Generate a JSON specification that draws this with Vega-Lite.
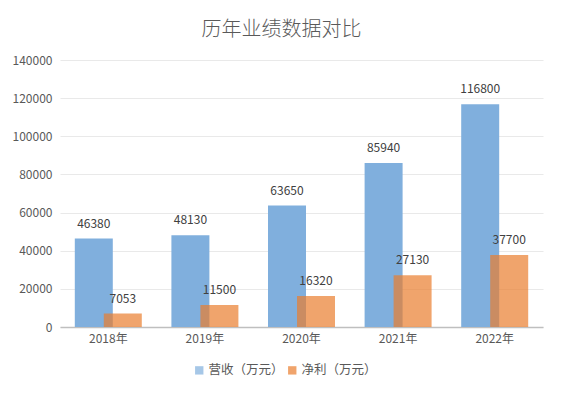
{
  "$schema": "https://vega.github.io/schema/vega-lite/v6.json",
  "width": 483,
  "height": 267,
  "autosize": {"type": "none"},
  "padding": {"left": 60, "top": 60, "right": 21, "bottom": 72},
  "background": "white",
  "title": {
    "text": "历年业绩数据对比",
    "fontSize": 20,
    "font": "Noto Sans CJK SC",
    "fontWeight": 300,
    "color": "#595959",
    "anchor": "middle",
    "dx": -20,
    "offset": 14
  },
  "data": {
    "values": [
      {"year": "2018年", "series": "营收（万元）", "value": 46380},
      {"year": "2019年", "series": "营收（万元）", "value": 48130},
      {"year": "2020年", "series": "营收（万元）", "value": 63650},
      {"year": "2021年", "series": "营收（万元）", "value": 85940},
      {"year": "2022年", "series": "营收（万元）", "value": 116800},
      {"year": "2018年", "series": "净利（万元）", "value": 7053},
      {"year": "2019年", "series": "净利（万元）", "value": 11500},
      {"year": "2020年", "series": "净利（万元）", "value": 16320},
      {"year": "2021年", "series": "净利（万元）", "value": 27130},
      {"year": "2022年", "series": "净利（万元）", "value": 37700}
    ]
  },
  "encoding": {
    "x": {
      "field": "year",
      "type": "nominal",
      "sort": null,
      "scale": {"paddingInner": 0, "paddingOuter": 0},
      "axis": {
        "title": null,
        "labelAngle": 0,
        "ticks": false,
        "domainColor": "#BFBFBF",
        "domainWidth": 1.5,
        "labelColor": "#595959",
        "labelFontSize": 12,
        "labelFont": "Noto Sans CJK SC",
        "labelPadding": 6
      }
    },
    "y": {
      "field": "value",
      "type": "quantitative",
      "scale": {"domain": [0, 140000]},
      "axis": {
        "title": null,
        "values": [0, 20000, 40000, 60000, 80000, 100000, 120000, 140000],
        "format": "d",
        "domain": false,
        "ticks": false,
        "gridColor": "#E9E9E9",
        "labelColor": "#595959",
        "labelFontSize": 12,
        "labelFont": "Noto Sans CJK SC",
        "labelPadding": 8
      }
    }
  },
  "layer": [
    {
      "transform": [{"filter": "datum.series === '营收（万元）'"}],
      "mark": {"type": "bar", "width": 38, "xOffset": -14.5},
      "encoding": {
        "color": {
          "field": "series",
          "type": "nominal",
          "scale": {"domain": ["营收（万元）", "净利（万元）"], "range": ["#80AFDD", "#EA7D2D"]},
          "legend": {
            "title": null,
            "orient": "none",
            "direction": "horizontal",
            "legendX": 133,
            "legendY": 304,
            "symbolType": "square",
            "symbolSize": 70,
            "labelFontSize": 12.5,
            "labelFont": "Noto Sans CJK SC",
            "labelColor": "#595959",
            "labelOffset": 3,
            "columnPadding": 2,
            "symbolStrokeWidth": 0,
            "symbolOpacity": 0.75
          }
        }
      }
    },
    {
      "transform": [{"filter": "datum.series === '净利（万元）'"}],
      "mark": {"type": "bar", "width": 38, "xOffset": 14.5, "opacity": 0.7},
      "encoding": {
        "color": {"field": "series", "type": "nominal"}
      }
    },
    {
      "transform": [{"filter": "datum.series === '营收（万元）'"}],
      "mark": {"type": "text", "xOffset": -14.5, "dy": -8, "baseline": "bottom", "fontSize": 12, "font": "Noto Sans CJK SC", "color": "#404040"},
      "encoding": {"text": {"field": "value", "type": "quantitative", "format": "d"}}
    },
    {
      "transform": [{"filter": "datum.series === '净利（万元）'"}],
      "mark": {"type": "text", "xOffset": 14.5, "dy": -8, "baseline": "bottom", "fontSize": 12, "font": "Noto Sans CJK SC", "color": "#404040"},
      "encoding": {"text": {"field": "value", "type": "quantitative", "format": "d"}}
    }
  ],
  "config": {"view": {"stroke": null}}
}
